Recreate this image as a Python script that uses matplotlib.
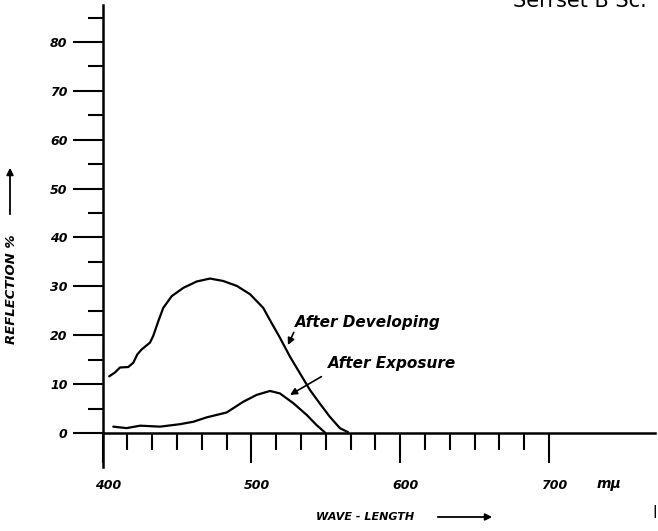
import numpy as np
import matplotlib
matplotlib.use("Agg")
from matplotlib import pyplot as plt
from matplotlib import transforms

# данные
dev_wl = [404.4, 408.3, 411.6, 417.2, 420.6, 423.3, 426.2, 431.8, 434.0, 437.4,
          440.7, 446.4, 454.2, 463.2, 472.1, 481.0, 490.1, 499.0, 507.9, 512.4,
          519.1, 525.9, 532.6, 539.3, 546.0, 552.7, 559.4, 565.0]
dev_refl = [11.6, 12.4, 13.4, 13.5, 14.4, 16.1, 17.1, 18.5, 19.9, 22.9,
            25.6, 28.0, 29.7, 31.0, 31.6, 31.1, 30.1, 28.4, 25.6, 23.1,
            19.5, 15.6, 12.2, 8.8, 6.0, 3.3, 1.0, 0.15]

exp_wl = [407.1, 416.1, 425.1, 438.5, 451.9, 460.9, 469.9, 483.3, 494.5, 503.5,
          512.4, 519.1, 528.1, 537.1, 543.8, 549.4]
exp_refl = [1.3, 1.0, 1.5, 1.3, 1.8, 2.3, 3.2, 4.2, 6.4, 7.8,
            8.6, 8.1, 6.1, 3.7, 1.6, 0.1]

y_major = [0, 10, 20, 30, 40, 50, 60, 70, 80]
y_minor = [5, 15, 25, 35, 45, 55, 65, 75, 85]
x_major = [400, 500, 600, 700]
x_minor = [400 + 100 * k / 6 for k in range(1, 18) if k % 6 != 0]

font = dict(family="DejaVu Sans", weight="bold", style="italic")

fig = plt.figure(figsize=(6.58, 5.31), dpi=100)
ax = fig.add_axes([0, 0, 1, 1])
ax.set_xlim(330.98, 773.2)
ax.set_ylim(-20.05, 88.59)
ax.patch.set_alpha(0)

for s in ["top", "right"]:
    ax.spines[s].set_visible(False)
ax.spines["left"].set_position(("data", 400))
ax.spines["bottom"].set_position(("data", 0))
ax.spines["left"].set_bounds(-7, 87.6)
ax.spines["bottom"].set_bounds(400, 771)
ax.spines["left"].set_linewidth(1.8)
ax.spines["bottom"].set_linewidth(1.8)

ax.set_yticks(y_major)
ax.set_yticks(y_minor, minor=True)
ax.set_xticks(x_major)
ax.set_xticks(x_minor, minor=True)
ax.tick_params(axis="y", which="major", direction="out", length=21.6, width=1.5, pad=3.6, labelsize=9)
ax.tick_params(axis="y", which="minor", direction="out", length=10.8, width=1.5)
ax.tick_params(axis="x", which="major", direction="out", length=21.6, width=1.5, pad=11.5, labelsize=9)
ax.tick_params(axis="x", which="minor", direction="out", length=12.2, width=1.5)
ax.set_yticklabels([str(v) for v in y_major], **font)
ax.set_xticklabels([str(v) for v in x_major], **font)
off = transforms.ScaledTranslation(5 / 100, 0, fig.dpi_scale_trans)
for lab in ax.get_xticklabels():
    lab.set_transform(lab.get_transform() + off)

ax.plot(dev_wl, dev_refl, color="black", lw=1.6, solid_capstyle="round", solid_joinstyle="round")
ax.plot(exp_wl, exp_refl, color="black", lw=1.6, solid_capstyle="round", solid_joinstyle="round")

ax.annotate("After Developing", xy=(524.5, 18.0), xytext=(529.3, 22.7),
            fontsize=11, va="center", ha="left", **font,
            arrowprops=dict(arrowstyle="-|>", color="black", lw=1.2,
                            shrinkA=0, shrinkB=0, mutation_scale=10,
                            relpos=(0, 0.0)))
ax.annotate("After Exposure", xy=(525.9, 7.8), xytext=(551.3, 14.3),
            fontsize=11, va="center", ha="left", **font,
            arrowprops=dict(arrowstyle="-|>", color="black", lw=1.2,
                            shrinkA=0, shrinkB=0, mutation_scale=10,
                            relpos=(-0.05, -0.4)))

ax.text(732, -10.5, "mμ", fontsize=10, ha="left", va="center", **font)

# подписи осей
fig.text(12 / 658, 1 - 289 / 531, "REFLECTION %", rotation=90, fontsize=9.5,
         ha="center", va="center", **font)
ax.annotate("", xy=(10, 531 - 165), xytext=(10, 531 - 217), xycoords="figure pixels",
            arrowprops=dict(arrowstyle="-|>", color="black", lw=1.3, mutation_scale=10))
fig.text(365 / 658, 14 / 531, "WAVE - LENGTH", fontsize=8, ha="center", va="center", **font)
ax.annotate("", xy=(495, 14), xytext=(435, 14), xycoords="figure pixels",
            arrowprops=dict(arrowstyle="-|>", color="black", lw=1.3, mutation_scale=10))

fig.text(513 / 658, 1 - 7 / 531, "Serrset B Sc.", fontsize=15, ha="left", va="baseline",
         family="DejaVu Sans")
fig.text(655 / 658, 1 - 511 / 531, "|", fontsize=9, ha="center", va="center", **font)

fig.savefig("out.png", dpi=100)
